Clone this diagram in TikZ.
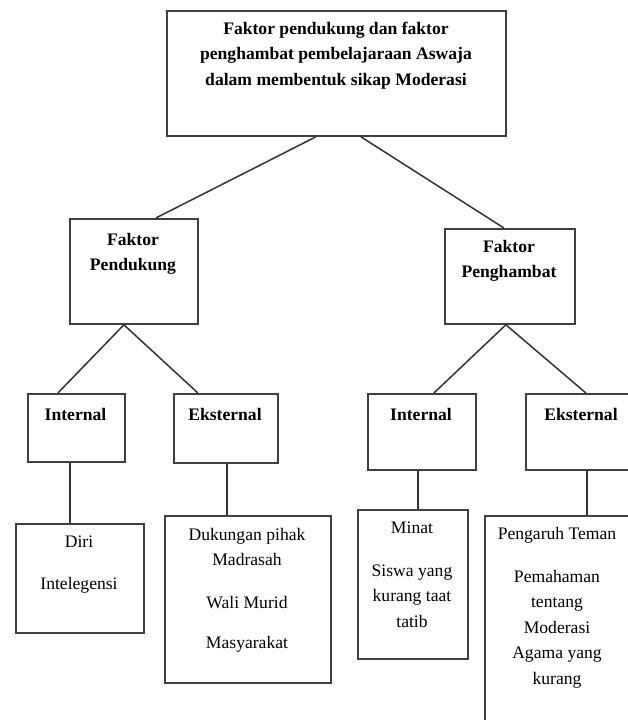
\documentclass[tikz,border=0pt]{standalone}
\usepackage{fontspec}
\setmainfont{Liberation Serif}
\begin{document}
\begin{tikzpicture}[x=1pt,y=-1pt,
  box/.style={draw=black!75,line width=1.8pt,inner sep=0pt,anchor=north west,fill=white},
  conn/.style={draw=black!80,line width=1.5pt},
  txt/.style={inner sep=0pt,anchor=north,align=center,text=black,font=\fontsize{17.6}{25.5}\selectfont},
  btxt/.style={txt,font=\fontsize{17.6}{25.5}\selectfont\bfseries}]
\useasboundingbox (0,0) rectangle (628,720);
\clip (0,0) rectangle (628,720);
\fill[white] (0,0) rectangle (628,720);
% boxes
\node[box,minimum width=339pt,minimum height=125pt] (top) at (166,10) {};
\node[box,minimum width=128pt,minimum height=105pt] (fp) at (69,218) {};
\node[box,minimum width=130pt,minimum height=95pt] (fh) at (444,228) {};
\node[box,minimum width=97pt,minimum height=68pt] (il) at (27,393) {};
\node[box,minimum width=104pt,minimum height=69pt] (el) at (173,393) {};
\node[box,minimum width=108pt,minimum height=76pt] (ir) at (367,393) {};
\node[box,minimum width=112pt,minimum height=76pt] (er) at (525,393) {};
\node[box,minimum width=128pt,minimum height=109pt] (diri) at (15,523) {};
\node[box,minimum width=166pt,minimum height=167pt] (duk) at (164,515) {};
\node[box,minimum width=110pt,minimum height=149pt] (minat) at (357,509) {};
\node[box,minimum width=148pt,minimum height=215pt] (peng) at (484,515) {};
% texts
\node[btxt] (ttop) at (336,21) {\rule{0pt}{13pt}Faktor pendukung dan faktor\\penghambat pembelajaraan Aswaja\\dalam membentuk sikap Moderasi};
\node[btxt] (tfp) at (133,232) {\rule{0pt}{13pt}Faktor\\Pendukung};
\node[btxt] (tfh) at (509,239) {\rule{0pt}{13pt}Faktor\\Penghambat};
\node[btxt] (til) at (75.5,407) {\rule{0pt}{13pt}Internal};
\node[btxt] (tel) at (225,407) {\rule{0pt}{13pt}Eksternal};
\node[btxt] (tir) at (421,407) {\rule{0pt}{13pt}Internal};
\node[btxt] (ter) at (581,407) {\rule{0pt}{13pt}Eksternal};
\node[txt] (tdiri) at (79,534) {\rule{0pt}{13pt}Diri\\[16.5pt]Intelegensi};
\node[txt] (tduk) at (247,527) {\rule{0pt}{13pt}Dukungan pihak\\Madrasah\\[17.5pt]Wali Murid\\[14.5pt]Masyarakat};
\node[txt] (tminat) at (412,520) {\rule{0pt}{13pt}Minat\\[17.5pt]Siswa yang\\kurang taat\\tatib};
\node[txt] (tpeng) at (557,526) {\rule{0pt}{13pt}Pengaruh Teman\\[17.5pt]Pemahaman\\tentang\\Moderasi\\Agama yang\\kurang};
% connectors
\draw[conn] ([xshift=-20.5pt]top.south) -- ([xshift=22pt]fp.north);
\draw[conn] ([xshift=24.5pt]top.south) -- ([xshift=-6pt]fh.north);
\draw[conn] ([xshift=-10pt]fp.south) -- ([xshift=-18.5pt]il.north);
\draw[conn] ([xshift=-10pt]fp.south) -- ([xshift=-28pt]el.north);
\draw[conn] ([xshift=-4pt]fh.south) -- ([xshift=12pt]ir.north);
\draw[conn] ([xshift=-4pt]fh.south) -- ([xshift=4pt]er.north);
\draw[conn] ([xshift=-6.5pt]il.south) -- ([xshift=-6.5pt]il.south |- diri.north);
\draw[conn] ([xshift=1pt]el.south) -- ([xshift=1pt]el.south |- duk.north);
\draw[conn] ([xshift=-4pt]ir.south) -- ([xshift=-4pt]ir.south |- minat.north);
\draw[conn] ([xshift=5pt]er.south) -- ([xshift=5pt]er.south |- peng.north);
\end{tikzpicture}
\end{document}
